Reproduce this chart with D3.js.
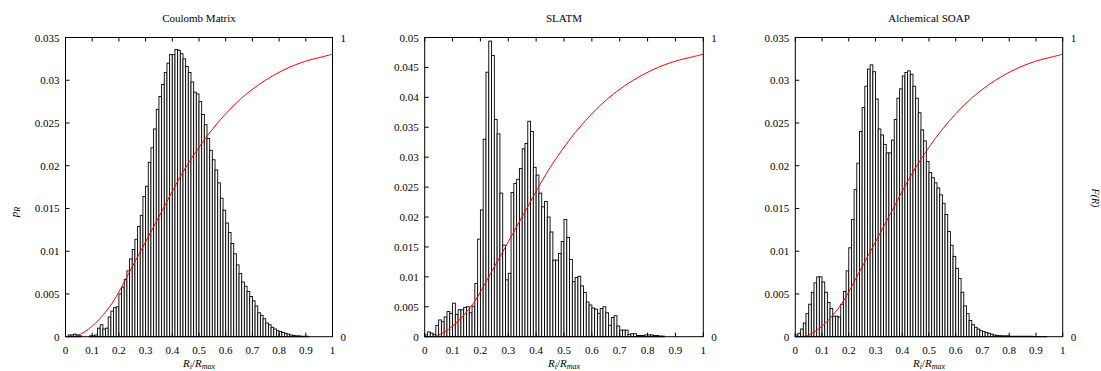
<!DOCTYPE html>
<html>
<head>
<meta charset="utf-8">
<script src="https://cdn.jsdelivr.net/npm/d3@7"></script>
<style>
  body { margin: 0; background: #fff; }
  svg text { font-family: "Liberation Serif", "DejaVu Serif", serif; fill: #000; }
</style>
</head>
<body>
<svg id="chart" width="1101" height="371"></svg>
<script>
// ---- data (bin width 0.01, bins start at 0) ----
var titles = ["Coulomb Matrix", "SLATM", "Alchemical SOAP"];
var yMaxes = [0.035, 0.05, 0.035];
var xTicks = [0, 0.1, 0.2, 0.3, 0.4, 0.5, 0.6, 0.7, 0.8, 0.9, 1];

var coulombHist = [
  0, 0.0002, 0.0002, 0.0003, 0.0002, 0.0001, 0, 0, 0, 0.0001,
  0.0001, 0.0002, 0.001, 0.0014, 0.0009, 0.001, 0.0023, 0.003, 0.0034, 0.0035,
  0.005, 0.0058, 0.0067, 0.0077, 0.0091, 0.0102, 0.0114, 0.0129, 0.0142, 0.0164,
  0.0176, 0.0204, 0.0221, 0.0243, 0.0266, 0.0281, 0.0295, 0.0309, 0.032, 0.033,
  0.033, 0.0336, 0.0335, 0.0331, 0.0325, 0.0316, 0.0309, 0.0298, 0.0286, 0.0284,
  0.0275, 0.026, 0.0248, 0.0232, 0.0218, 0.0207, 0.0195, 0.018, 0.0162, 0.0148,
  0.0133, 0.0122, 0.0109, 0.0097, 0.0084, 0.0074, 0.0064, 0.0059, 0.0053, 0.0047,
  0.0042, 0.0036, 0.0028, 0.0025, 0.0021, 0.0016, 0.0014, 0.0011, 0.0009, 0.0007,
  0.0006, 0.0005, 0.0004, 0.0003, 0.0002, 0.00015, 0.0001, 0.0001, 0.00005, 0.00005,
  0.00005, 0, 0, 0, 0, 0, 0, 0, 0, 0
];

var slatmHist = [
  0.0003, 0.0008, 0.0006, 0.0004, 0.0019, 0.0028, 0.0025, 0.0033, 0.0042, 0.0039,
  0.0056, 0.0037, 0.0045, 0.0045, 0.0049, 0.005, 0.004, 0.0051, 0.0089, 0.0163,
  0.0212, 0.033, 0.0442, 0.0494, 0.047, 0.0363, 0.0339, 0.024, 0.0153, 0.0095,
  0.0106, 0.0241, 0.0256, 0.0263, 0.0281, 0.0314, 0.0323, 0.036, 0.0343, 0.0283,
  0.027, 0.024, 0.0217, 0.0226, 0.02, 0.0175, 0.0128, 0.0128, 0.0139, 0.0159,
  0.0196, 0.0166, 0.0129, 0.0092, 0.0099, 0.0101, 0.0085, 0.0074, 0.0058, 0.0053,
  0.0048, 0.0046, 0.0039, 0.0047, 0.005, 0.004, 0.0019, 0.0032, 0.0035, 0.0018,
  0.0011, 0.0011, 0.0011, 0.0004, 0.0005, 0.0005, 0.0002, 0.0002, 0.0002, 0.0003,
  0.0003, 0.0003, 0.0002, 0.0002, 0.0001, 0.0001, 0, 0, 0, 0,
  0, 0, 0, 0, 0, 0, 0, 0, 0, 0
];

var soapHist = [
  0.0002, 0.0004, 0.0009, 0.0016, 0.0027, 0.0038, 0.0052, 0.0063, 0.007, 0.007,
  0.0064, 0.0052, 0.004, 0.0033, 0.0024, 0.0024, 0.0023, 0.0038, 0.0053, 0.0077,
  0.0104, 0.0137, 0.0172, 0.0203, 0.024, 0.0268, 0.0293, 0.0313, 0.0318, 0.031,
  0.0278, 0.0243, 0.0236, 0.0225, 0.0215, 0.0215, 0.023, 0.0254, 0.0279, 0.029,
  0.0305, 0.0309, 0.0311, 0.0307, 0.0293, 0.0279, 0.0262, 0.0242, 0.0229, 0.0205,
  0.0192, 0.0186, 0.018, 0.0174, 0.0166, 0.0156, 0.0143, 0.0123, 0.0107, 0.0094,
  0.008, 0.0068, 0.0052, 0.0036, 0.0027, 0.0019, 0.0014, 0.0011, 0.0009, 0.0007,
  0.0006, 0.0005, 0.0004, 0.0003, 0.0002, 0.00015, 0.00012, 0.0001, 0.0001, 0.0001,
  0.00005, 0.00005, 0.00005, 0.00005, 0.00005, 0.00005, 0.00005, 0.00005, 0.00005, 0.00003,
  0.00003, 0.00003, 0.00003, 0.00003, 0, 0, 0, 0, 0, 0
];

// cumulative curve F(R), same in every panel
var cdfR = [0.03, 0.06, 0.112, 0.174, 0.237, 0.30, 0.36, 0.42, 0.45, 0.48, 0.54, 0.60, 0.66, 0.72, 0.78, 0.84, 0.90, 0.96, 1.0];
var cdfF = [0, 0.01, 0.045, 0.111, 0.212, 0.317, 0.418, 0.519, 0.565, 0.607, 0.682, 0.745, 0.798, 0.840, 0.874, 0.901, 0.921, 0.935, 0.944];

var hists = [coulombHist, slatmHist, soapHist];
var binWidth = 0.01;

// ---- layout ----
var svg = d3.select("#chart");
var plotTop = 37.5, plotBottom = 336.7;
var panelX = [[65.5, 332.5], [424.7, 703.3], [795.3, 1062.7]];
var tickLen = 4;
var fmt = function(d) { return d === 0 ? "0" : String(+d.toFixed(3)); };

hists.forEach(function(hist, p) {
  var x = d3.scaleLinear().domain([0, 1]).range(panelX[p]);
  var y = d3.scaleLinear().domain([0, yMaxes[p]]).range([plotBottom, plotTop]);
  var yF = d3.scaleLinear().domain([0, 1]).range([plotBottom, plotTop]);
  var g = svg.append("g");

  // bars
  g.selectAll("rect.bar")
    .data(hist.map(function(v, i) { return {i: i, v: v}; }).filter(function(d) { return d.v > 0; }))
    .enter().append("rect")
      .attr("class", "bar")
      .attr("x", function(d) { return x(d.i * binWidth); })
      .attr("width", function(d) { return x((d.i + 1) * binWidth) - x(d.i * binWidth); })
      .attr("y", function(d) { return y(d.v); })
      .attr("height", function(d) { return plotBottom - y(d.v); })
      .attr("fill", "#fff")
      .attr("stroke", "#000")
      .attr("stroke-width", 0.9);

  // F(R) curve
  var line = d3.line()
    .x(function(d, i) { return x(cdfR[i]); })
    .y(function(d) { return yF(d); })
    .curve(d3.curveCatmullRom.alpha(0.5));
  g.append("path")
    .datum(cdfF)
    .attr("d", line)
    .attr("fill", "none")
    .attr("stroke", "#ff0000")
    .attr("stroke-width", 1);

  // frame
  g.append("rect")
    .attr("x", panelX[p][0]).attr("y", plotTop)
    .attr("width", panelX[p][1] - panelX[p][0]).attr("height", plotBottom - plotTop)
    .attr("fill", "none").attr("stroke", "#000").attr("stroke-width", 1);

  // x ticks (bottom and top, inward)
  xTicks.forEach(function(t) {
    g.append("line").attr("x1", x(t)).attr("x2", x(t))
      .attr("y1", plotBottom).attr("y2", plotBottom - tickLen).attr("stroke", "#000");
    g.append("line").attr("x1", x(t)).attr("x2", x(t))
      .attr("y1", plotTop).attr("y2", plotTop + tickLen).attr("stroke", "#000");
    g.append("text").attr("x", x(t)).attr("y", plotBottom + 17)
      .attr("text-anchor", "middle").attr("font-size", 11).text(fmt(t));
  });

  // y ticks (left, inward)
  d3.range(0, yMaxes[p] + 1e-9, 0.005).forEach(function(t) {
    g.append("line").attr("x1", panelX[p][0]).attr("x2", panelX[p][0] + tickLen)
      .attr("y1", y(t)).attr("y2", y(t)).attr("stroke", "#000");
    g.append("text").attr("x", panelX[p][0] - 6).attr("y", y(t) + 4)
      .attr("text-anchor", "end").attr("font-size", 11).text(fmt(t));
  });

  // right axis 0 / 1
  [0, 1].forEach(function(t) {
    g.append("text").attr("x", panelX[p][1] + 8).attr("y", yF(t) + 4)
      .attr("text-anchor", "start").attr("font-size", 11).text(String(t));
  });

  // title
  g.append("text").attr("x", (panelX[p][0] + panelX[p][1]) / 2).attr("y", 22)
    .attr("text-anchor", "middle").attr("font-size", 11).text(titles[p]);

  // x label R_i / R_max
  var xl = g.append("text").attr("x", (panelX[p][0] + panelX[p][1]) / 2).attr("y", 367)
    .attr("text-anchor", "middle").attr("font-size", 11);
  xl.append("tspan").attr("font-style", "italic").text("R");
  xl.append("tspan").attr("font-style", "italic").attr("font-size", 8).attr("dy", 2).text("i");
  xl.append("tspan").attr("dy", -2).text("/");
  xl.append("tspan").attr("font-style", "italic").text("R");
  xl.append("tspan").attr("font-style", "italic").attr("font-size", 8).attr("dy", 2).text("max");
});

// left y label p_R
var pl = svg.append("text").attr("transform", "translate(18,212) rotate(-90)")
  .attr("text-anchor", "middle").attr("font-size", 11);
pl.append("tspan").attr("font-style", "italic").text("p");
pl.append("tspan").attr("font-style", "italic").attr("font-size", 8).attr("dy", 2).text("R");

// right y label F(R)
svg.append("text").attr("transform", "translate(1092,198) rotate(90)")
  .attr("text-anchor", "middle").attr("font-size", 10).attr("font-style", "italic").text("F(R)");
</script>
</body>
</html>
